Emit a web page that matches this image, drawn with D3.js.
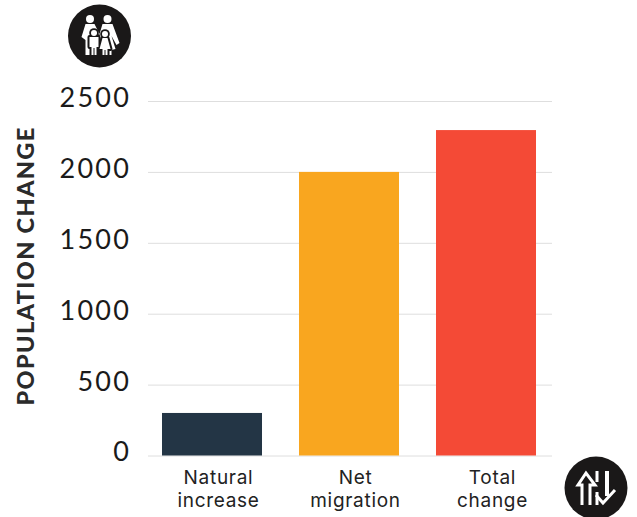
<!DOCTYPE html>
<html><head><meta charset="utf-8">
<script src="https://cdn.jsdelivr.net/npm/d3@7/dist/d3.min.js"></script>
<style>html,body{margin:0;padding:0;background:#fff}svg{display:block}</style>
</head><body><svg id="c" width="637" height="517"></svg>
<script>
const categories = [["Natural","increase"],["Net","migration"],["Total","change"]];
const values = [300, 2000, 2295];
const colors = ["#233545","#f9a61f","#f44a36"];
const tickValues = [0,500,1000,1500,2000,2500];
const yTitle = "POPULATION CHANGE";

const svg = d3.select("#c");
const y = d3.scaleLinear().domain([0,2500]).range([455.5,101]);
const x = d3.scaleBand().domain(d3.range(3)).range([143.5,554.5]).paddingInner(0.27).paddingOuter(0.135);

const axis = svg.append("g").attr("transform","translate(148,0)")
  .call(d3.axisLeft(y).tickValues(tickValues).tickSize(-404).tickPadding(17).tickFormat(d3.format("d")));
axis.select(".domain").remove();
axis.selectAll(".tick line").attr("stroke","#dedede").attr("stroke-width",1);
axis.selectAll(".tick text").attr("font-family","Lato").attr("font-size",27).attr("letter-spacing",2.2)
  .attr("fill","#1a1a1a").attr("dy","0.2em");

svg.append("g").selectAll("rect").data(values).join("rect")
  .attr("x",(d,i)=>x(i)).attr("width",x.bandwidth())
  .attr("y",d=>y(d)).attr("height",d=>y(0)-y(d)).attr("fill",(d,i)=>colors[i]);

const labels = svg.append("g").selectAll("text").data(categories).join("text")
  .attr("text-anchor","middle").attr("font-family","Inter").attr("font-size",19).attr("letter-spacing",0.7).attr("fill","#222");
labels.each(function(lines,i){
  d3.select(this).selectAll("tspan").data(lines).join("tspan")
    .attr("x",x(i)+x.bandwidth()/2+6.5)
    .attr("y",(d,j)=>484+j*23).text(d=>d);
});

svg.append("text").attr("transform","translate(34,266) rotate(-90)").attr("text-anchor","middle")
  .attr("font-family","Lato").attr("font-weight",900).attr("font-size",23.5).attr("letter-spacing",1.35)
  .attr("fill","#2b2b2b").text(yTitle);

const K="#1a1818", W="#fff";
// family icon
const f = svg.append("g").attr("transform","translate(99.5,36)");
f.append("circle").attr("r",31.5).attr("fill",K);
f.append("circle").attr("cx",-9.5).attr("cy",-17).attr("r",4).attr("fill",W);
f.append("circle").attr("cx",8).attr("cy",-17).attr("r",4).attr("fill",W);
f.append("path").attr("fill",W).attr("d","M-14,-12 L-5,-12 L0,-2 L-3,-1 L-4,19 L-14,19 L-14,-1 L-16,-3 L-14,-1 L-14,4 L-18,1 Z");
f.append("path").attr("fill",W).attr("d","M3,-12 L13,-12 L20,7 L17,9 L12,0 L16,13 L12,14 L12,19 L2,19 L2,10 L0,-2 Z");
const kids = f.append("g");
const kid = "M-10,1 L-1,1 L-1,11 L-3,11 L-3,19 L-5,19 L-5,12 L-6,12 L-6,19 L-8,19 L-8,11 L-10,11 Z";
const girl = "M3,2 L8,2 L11,13 L8,13 L8,19 L6,19 L6,14 L5,14 L5,19 L3,19 L3,13 L0,13 Z";
[kid,girl].forEach(d=>kids.append("path").attr("d",d).attr("fill",K).attr("stroke",K).attr("stroke-width",4).attr("stroke-linejoin","round"));
kids.append("circle").attr("cx",-5.5).attr("cy",-3).attr("r",4.8).attr("fill",K);
kids.append("circle").attr("cx",5.5).attr("cy",-2).attr("r",4.8).attr("fill",K);
[kid,girl].forEach(d=>kids.append("path").attr("d",d).attr("fill",W));
kids.append("circle").attr("cx",-5.5).attr("cy",-3).attr("r",3).attr("fill",W);
kids.append("circle").attr("cx",5.5).attr("cy",-2).attr("r",3).attr("fill",W);

// arrows icon
const g = svg.append("g").attr("transform","translate(596,488)").attr("fill","none").attr("stroke",W).attr("stroke-width",3);
g.append("circle").attr("r",31.5).attr("fill",K).attr("stroke","none");
g.append("path").attr("d","M-14,17 L-14,-3 L-18,-3 L-10,-15 L-1,-3 L-6,-3 L-6,17");
g.append("path").attr("d","M1,-17 L1,-6 M1,4 L1,17");
g.append("path").attr("stroke-width",4).attr("d","M11,-17 L11,8");
g.append("path").attr("d","M0,7 L7,15 L19,2");
</script></body></html>
